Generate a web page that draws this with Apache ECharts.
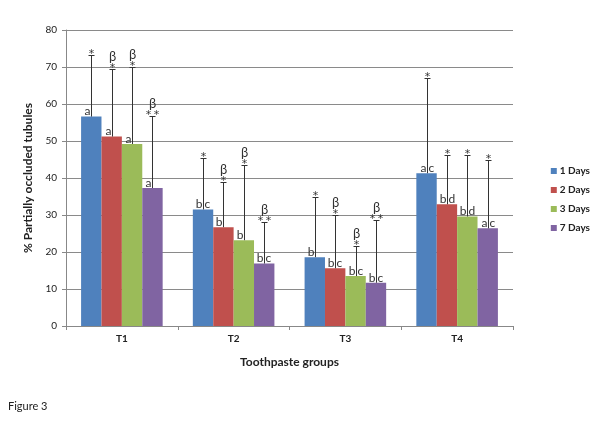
<!DOCTYPE html>
<html><head><meta charset="utf-8">
<script src="https://cdn.jsdelivr.net/npm/echarts@6/dist/echarts.min.js"></script>
<style>html,body{margin:0;padding:0;background:#fff}#c{width:605px;height:433px}</style>
</head><body><div id="c"></div>
<script>
const categories = ['T1','T2','T3','T4'];
const seriesNames = ['1 Days','2 Days','3 Days','7 Days'];
const yTicks = [0,10,20,30,40,50,60,70,80];
const mean1 = [56.6, 31.5, 18.6, 41.3];
const mean2 = [51.2, 26.7, 15.6, 32.9];
const mean3 = [49.2, 23.2, 13.5, 29.6];
const mean7 = [37.3, 16.9, 11.7, 26.4];
const top1 = [73.2, 45.5, 35.0, 66.9];
const top2 = [69.4, 39.0, 29.9, 46.2];
const top3 = [70.1, 43.5, 21.7, 46.2];
const top7 = [56.8, 28.2, 28.6, 44.9];
const letters1 = ['a','bc','b','ac'];
const letters2 = ['a','b','bc','bd'];
const letters3 = ['a','b','bc','bd'];
const letters7 = ['a','bc','bc','ac'];
const sym1 = ['*','*','*','*'];
const sym2 = ['β*','β*','β*','*'];
const sym3 = ['β*','β*','β*','*'];
const sym7 = ['β**','β**','β**','*'];

const colors = ['#4F81BD','#C0504D','#9BBB59','#8064A2'];
const means = [mean1, mean2, mean3, mean7];
const tops = [top1, top2, top3, top7];
const letters = [letters1, letters2, letters3, letters7];
const syms = [sym1, sym2, sym3, sym7];
const FONT = 'Lato';
const GAP = 0.27;

const errData = [];
for (let s = 0; s < 4; s++) for (let c = 0; c < 4; c++) errData.push([c, means[s][c], tops[s][c], s]);

function renderErr(params, api) {
  const c = api.value(0), mean = api.value(1), top = api.value(2), s = api.value(3);
  const band = api.size([1, 0])[0];
  const groupW = band * (1 - GAP);
  const barW = groupW / 4;
  const cx = api.coord([c, 0])[0];
  const x = Math.round(cx - groupW / 2 + barW * (s + 0.5)) + 0.5;
  const yb = api.coord([c, mean])[1];
  const yt = Math.round(api.coord([c, top])[1]) + 0.5;
  const ts = {fontFamily: FONT, fontSize: 12, fill: '#333'};
  const children = [
    {type: 'line', shape: {x1: x, y1: yb, x2: x, y2: yt}, style: {stroke: '#333', lineWidth: 1}},
    {type: 'line', shape: {x1: x - 3, y1: yt, x2: x + 3, y2: yt}, style: {stroke: '#333', lineWidth: 1}}
  ];
  const L = letters[s][c];
  if (L.length === 1) {
    children.push({type: 'text', x: x - 1, y: yb + 1, style: Object.assign({}, ts, {text: L, align: 'right', verticalAlign: 'bottom'})});
  } else {
    children.push({type: 'text', x: x - 1, y: yb + 1, style: Object.assign({}, ts, {text: L[0], align: 'right', verticalAlign: 'bottom'})});
    children.push({type: 'text', x: x + 1, y: yb + 1, style: Object.assign({}, ts, {text: L[1], align: 'left', verticalAlign: 'bottom'})});
  }
  const S = syms[s][c];
  const stars = S.replace('β', '');
  const hasBeta = S.indexOf('β') >= 0;
  const st = {fontFamily: 'DejaVu Sans', fontSize: 11, fill: '#333', text: '*', align: 'center', verticalAlign: 'middle'};
  const sy = yt - 1;
  if (stars.length === 1) {
    children.push({type: 'text', x: x, y: sy, style: st});
  } else {
    children.push({type: 'text', x: x - 4, y: sy, style: st});
    children.push({type: 'text', x: x + 4, y: sy, style: st});
  }
  if (hasBeta) {
    children.push({type: 'text', x: x, y: yt - 6, style: Object.assign({}, ts, {text: 'β', fontSize: 13, align: 'center', verticalAlign: 'bottom'})});
  }
  return {type: 'group', children: children};
}

const series = seriesNames.map((n, i) => ({
  name: n, type: 'bar', data: means[i], barGap: '0%', barCategoryGap: (GAP * 100) + '%',
  itemStyle: {color: colors[i]}, silent: true
}));
series.push({type: 'custom', renderItem: renderErr, data: errData, z: 5, silent: true,
  encode: {x: 0, y: [1, 2]}});

const chart = echarts.init(document.getElementById('c'), null, {renderer: 'canvas'});
chart.setOption({
  animation: false,
  backgroundColor: '#fff',
  grid: {left: 66, right: 92, top: 30, bottom: 107},
  legend: {
    orient: 'vertical', right: 10, top: 161, itemGap: 9, itemWidth: 6, itemHeight: 6,
    icon: 'rect', data: seriesNames,
    textStyle: {fontFamily: FONT, fontSize: 10, fontWeight: 'bold', color: '#222', padding: [0,0,0,-2]}
  },
  xAxis: {
    type: 'category', data: categories,
    name: 'Toothpaste groups', nameLocation: 'middle', nameGap: 30,
    nameTextStyle: {fontFamily: FONT, fontSize: 12, fontWeight: 'bold', color: '#222'},
    axisLine: {lineStyle: {color: '#888'}},
    axisTick: {show: true, length: 4, lineStyle: {color: '#888'}},
    axisLabel: {fontFamily: FONT, fontSize: 10, fontWeight: 'bold', color: '#222', margin: 8}
  },
  yAxis: {
    type: 'value', min: yTicks[0], max: yTicks[yTicks.length - 1], interval: 10,
    name: '% Partially occluded tubules', nameLocation: 'middle', nameGap: 31, nameRotate: 90,
    nameTextStyle: {fontFamily: FONT, fontSize: 12, fontWeight: 'bold', color: '#222'},
    axisLine: {show: true, lineStyle: {color: '#888'}},
    axisTick: {show: true, length: 4, inside: false, lineStyle: {color: '#888'}},
    splitLine: {lineStyle: {color: '#8a8a8a'}},
    axisLabel: {fontFamily: FONT, fontSize: 10, color: '#222', margin: 9}
  },
  graphic: [{type: 'text', left: 8, top: 401, style: {text: 'Figure 3', fontFamily: FONT, fontSize: 11, fill: '#222'}}],
  series: series
});
</script></body></html>
